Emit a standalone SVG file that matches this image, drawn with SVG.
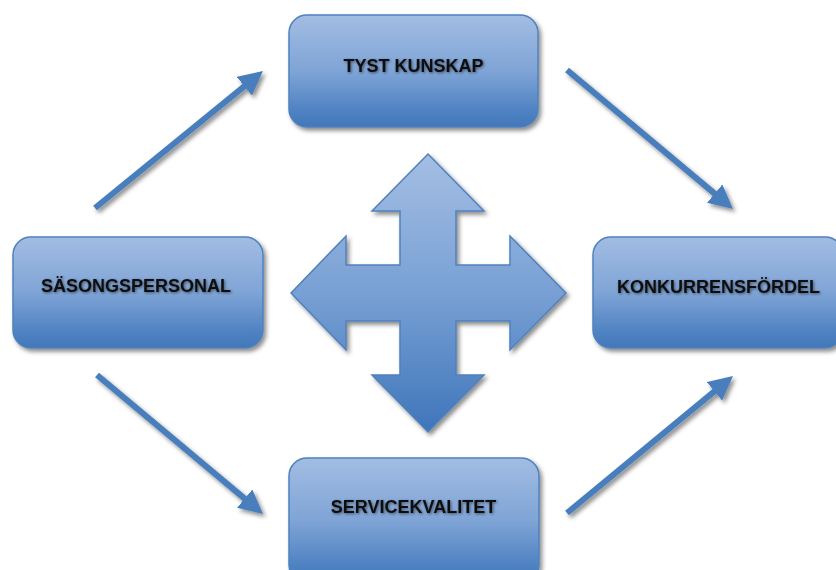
<svg xmlns="http://www.w3.org/2000/svg" width="836" height="570" viewBox="0 0 836 570">
  <defs>
    <linearGradient id="boxFill" x1="0" y1="0" x2="0" y2="1">
      <stop offset="0" stop-color="#a2bde3"/>
      <stop offset="0.5" stop-color="#7fa4d6"/>
      <stop offset="0.88" stop-color="#4c80c1"/>
      <stop offset="1" stop-color="#4377b9"/>
    </linearGradient>
    <linearGradient id="crossFill" x1="0" y1="0" x2="0" y2="1">
      <stop offset="0" stop-color="#a4bee3"/>
      <stop offset="0.5" stop-color="#78a0d4"/>
      <stop offset="1" stop-color="#3f75ba"/>
    </linearGradient>
    <filter id="shadow" x="-10%" y="-10%" width="125%" height="130%">
      <feDropShadow dx="2.5" dy="3" stdDeviation="2" flood-color="#000" flood-opacity="0.45"/>
    </filter>
    <filter id="textGlow" x="-10%" y="-40%" width="120%" height="180%">
      <feGaussianBlur in="SourceAlpha" stdDeviation="1.6" result="b"/>
      <feComponentTransfer in="b" result="g">
        <feFuncA type="linear" slope="0.55"/>
      </feComponentTransfer>
      <feOffset in="g" dx="0.5" dy="1" result="o"/>
      <feMerge>
        <feMergeNode in="o"/>
        <feMergeNode in="SourceGraphic"/>
      </feMerge>
    </filter>
    <marker id="head" viewBox="0 0 10 10" refX="7" refY="5" markerWidth="4" markerHeight="4" orient="auto" markerUnits="strokeWidth">
      <path d="M0,0 L10,5 L0,10 z" fill="#4a7ebd"/>
    </marker>
  </defs>
  <style>
    .box { fill: url(#boxFill); stroke: #4f81bd; stroke-width: 1.5; filter: url(#shadow); }
    .label { font-family: "Liberation Sans", Arial, sans-serif; font-weight: bold; font-size: 18px; fill: #111; text-anchor: middle; filter: url(#textGlow); }
    .conn { stroke: #4a7ebd; stroke-width: 6; fill: none; marker-end: url(#head); }
  </style>

  <rect width="836" height="570" fill="#ffffff"/>

  <!-- connectors -->
  <g id="connectors" filter="url(#shadow)">
    <line class="conn" x1="95" y1="208" x2="257.4" y2="75.6"/>
    <line class="conn" x1="567" y1="70" x2="727.5" y2="204.4"/>
    <line class="conn" x1="97" y1="375" x2="257.5" y2="509.4"/>
    <line class="conn" x1="567" y1="513" x2="727.4" y2="380.6"/>
  </g>

  <!-- four-way arrow in the middle -->
  <g id="cross">
    <polygon fill="url(#crossFill)" stroke="#4f81bd" stroke-width="1.5" filter="url(#shadow)"
      points="428,154 484,211 456,211 456,265 510,265 510,236 566,293 510,350 510,321 456,321 456,375 484,375 428,432 372,375 400,375 400,321 346,321 346,350 291,293 346,236 346,265 400,265 400,211 372,211"/>
  </g>

  <g id="tyst-kunskap">
    <rect class="box" x="289" y="15" width="249" height="112" rx="18"/>
    <text class="label" x="413.5" y="72">TYST KUNSKAP</text>
  </g>

  <g id="sasongspersonal">
    <rect class="box" x="13" y="237" width="250" height="111" rx="18"/>
    <text class="label" x="136" y="292">SÄSONGSPERSONAL</text>
  </g>

  <g id="konkurrensfordel">
    <rect class="box" x="593" y="237" width="250" height="111" rx="18"/>
    <text class="label" x="718.5" y="293">KONKURRENSFÖRDEL</text>
  </g>

  <g id="servicekvalitet">
    <rect class="box" x="289" y="458" width="250" height="125" rx="18"/>
    <text class="label" x="413.5" y="513">SERVICEKVALITET</text>
  </g>
</svg>
